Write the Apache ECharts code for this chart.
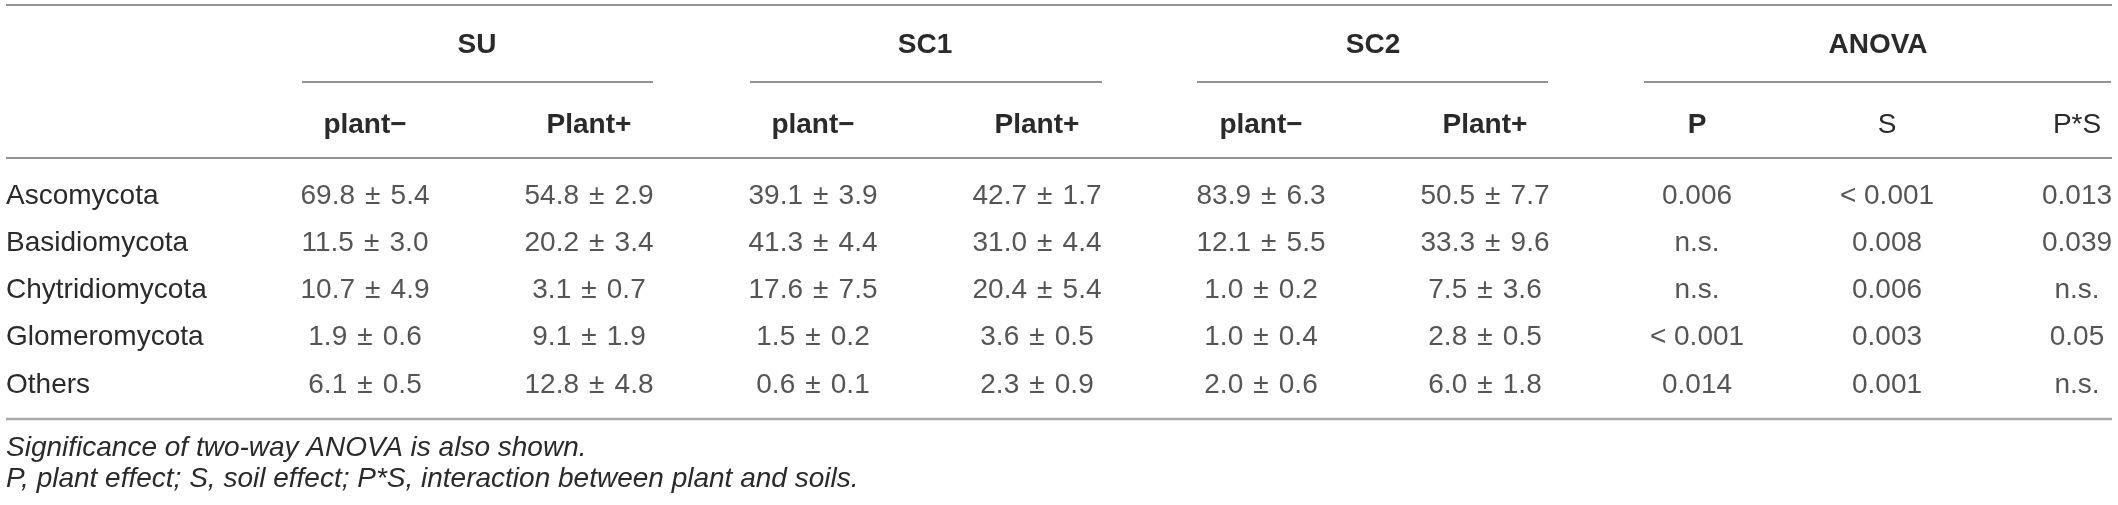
<!DOCTYPE html>
<html><head><meta charset="utf-8">
<script src="https://cdn.jsdelivr.net/npm/echarts@6/dist/echarts.min.js"></script>
<style>html,body{margin:0;padding:0;background:#fff}#c{width:2118px;height:505px}</style>
</head><body><div id="c"></div>
<script>
// ---------- data ----------
const phyla = ['Ascomycota', 'Basidiomycota', 'Chytridiomycota', 'Glomeromycota', 'Others'];
const soils = ['SU', 'SC1', 'SC2'];
const treatments = ['plant\u2212', 'Plant+'];

const suMinusMean  = [69.8, 11.5, 10.7, 1.9, 6.1];
const suMinusSd    = [5.4, 3.0, 4.9, 0.6, 0.5];
const suPlusMean   = [54.8, 20.2, 3.1, 9.1, 12.8];
const suPlusSd     = [2.9, 3.4, 0.7, 1.9, 4.8];
const sc1MinusMean = [39.1, 41.3, 17.6, 1.5, 0.6];
const sc1MinusSd   = [3.9, 4.4, 7.5, 0.2, 0.1];
const sc1PlusMean  = [42.7, 31.0, 20.4, 3.6, 2.3];
const sc1PlusSd    = [1.7, 4.4, 5.4, 0.5, 0.9];
const sc2MinusMean = [83.9, 12.1, 1.0, 1.0, 2.0];
const sc2MinusSd   = [6.3, 5.5, 0.2, 0.4, 0.6];
const sc2PlusMean  = [50.5, 33.3, 7.5, 2.8, 6.0];
const sc2PlusSd    = [7.7, 9.6, 3.6, 0.5, 1.8];

const anovaTitle = 'ANOVA';
const anovaTerms = ['P', 'S', 'P*S'];
const anovaP  = ['0.006', 'n.s.', 'n.s.', '< 0.001', '0.014'];
const anovaS  = ['< 0.001', '0.008', '0.006', '0.003', '0.001'];
const anovaPS = ['0.013', '0.039', 'n.s.', '0.05', 'n.s.'];

const footnotes = [
  'Significance of two-way ANOVA is also shown.',
  'P, plant effect; S, soil effect; P*S, interaction between plant and soils.'
];

// ---------- layout / style ----------
const FONT = "'Liberation Sans', Arial, Helvetica, sans-serif";
const INK = '#2a2a2a';
const FS = 28;
const rowTop = 172.4, rowHeight = 236.25;
const subHeadY = 125, groupHeadY = 45;
const groupLefts = [253, 701, 1149], groupWidth = 448;
const anovaLeft = 1697, anovaWidth = 380;
const tableLeft = 6, tableRight = 2112;
const topRuleY = 5, subRuleY = 82, headRuleY = 158, bottomRuleY = 419;
const subRules = [[302, 653], [750, 1102], [1197, 1548], [1644, 2111]];

const fmt = (m, s) => m.toFixed(1) + ' \u200a\u00b1\u200a ' + s.toFixed(1);
const soilData = [
  [[suMinusMean, suMinusSd], [suPlusMean, suPlusSd]],
  [[sc1MinusMean, sc1MinusSd], [sc1PlusMean, sc1PlusSd]],
  [[sc2MinusMean, sc2MinusSd], [sc2PlusMean, sc2PlusSd]]
];
const anovaCols = [anovaP, anovaS, anovaPS];

const grids = [], xAxes = [], yAxes = [], series = [];
const labelStyle = { show: true, position: 'inside', color: INK, fontFamily: FONT, fontSize: FS, formatter: p => p.value[2] };

soils.forEach((soil, g) => {
  grids.push({ left: groupLefts[g], width: groupWidth, top: rowTop, height: rowHeight });
  xAxes.push({
    type: 'category', gridIndex: g, position: 'top', data: treatments,
    axisLine: { show: false }, axisTick: { show: false }, splitLine: { show: false },
    axisLabel: { margin: rowTop - subHeadY, verticalAlign: 'middle', color: INK, fontFamily: FONT, fontSize: FS, fontWeight: 'bold' },
    name: soil, nameLocation: 'middle', nameGap: rowTop - groupHeadY,
    nameTextStyle: { color: INK, fontFamily: FONT, fontSize: FS, fontWeight: 'bold', verticalAlign: 'middle' }
  });
  yAxes.push({
    type: 'category', gridIndex: g, data: phyla, inverse: true, show: g === 0,
    axisLine: { show: false }, axisTick: { show: false }, splitLine: { show: false },
    axisLabel: { align: 'left', margin: groupLefts[0] - tableLeft, color: INK, fontFamily: FONT, fontSize: FS }
  });
  const data = [];
  treatments.forEach((t, k) => {
    const [mean, sd] = soilData[g][k];
    phyla.forEach((p, i) => data.push([t, p, fmt(mean[i], sd[i])]));
  });
  series.push({
    type: 'scatter', xAxisIndex: g, yAxisIndex: g, symbolSize: 1,
    itemStyle: { color: 'rgba(0,0,0,0)' }, label: labelStyle, silent: true, data
  });
});

// ANOVA block (columns on the grid edges and centre)
const ag = soils.length;
grids.push({ left: anovaLeft, width: anovaWidth, top: rowTop, height: rowHeight });
xAxes.push({
  type: 'category', gridIndex: ag, position: 'top', boundaryGap: false,
  data: anovaTerms,
  axisLine: { show: false }, axisTick: { show: false }, splitLine: { show: false },
  axisLabel: {
    margin: rowTop - subHeadY, verticalAlign: 'middle', align: 'center',
    alignMinLabel: 'center', alignMaxLabel: 'center', showMinLabel: true, showMaxLabel: true,
    color: INK, fontFamily: FONT, fontSize: FS,
    formatter: (v, i) => i === 0 ? '{b|' + v + '}' : '{n|' + v + '}',
    rich: {
      b: { fontWeight: 'bold', fontFamily: FONT, fontSize: FS, color: INK },
      n: { fontWeight: 'normal', fontFamily: FONT, fontSize: FS, color: INK }
    }
  },
  name: anovaTitle, nameLocation: 'middle', nameGap: rowTop - groupHeadY,
  nameTextStyle: { color: INK, fontFamily: FONT, fontSize: FS, fontWeight: 'bold', verticalAlign: 'middle', padding: [0, 18, 0, 0] }
});
yAxes.push({
  type: 'category', gridIndex: ag, data: phyla, inverse: true, show: false
});
const anovaData = [];
anovaTerms.forEach((t, k) => phyla.forEach((p, i) => anovaData.push([t, p, anovaCols[k][i]])));
series.push({
  type: 'scatter', xAxisIndex: ag, yAxisIndex: ag, symbolSize: 1,
  itemStyle: { color: 'rgba(0,0,0,0)' }, label: labelStyle, silent: true, data: anovaData
});

const ruleColor = '#6f6f6f';
const hline = (y, x1, x2, w, c) => ({ type: 'line', silent: true, shape: { x1, y1: y, x2, y2: y }, style: { stroke: c, lineWidth: w } });
const graphic = [
  hline(topRuleY, tableLeft, tableRight, 1.5, ruleColor),
  hline(headRuleY, tableLeft, tableRight, 1.5, ruleColor),
  hline(bottomRuleY, tableLeft, tableRight, 2.5, '#a8a8a8'),
  ...subRules.map(([a, b]) => hline(subRuleY, a, b, 1.5, ruleColor))
];

const chart = echarts.init(document.getElementById('c'), null, { renderer: 'canvas' });
chart.setOption({
  animation: false,
  backgroundColor: '#fff',
  title: {
    left: tableLeft, top: 433, padding: 0,
    text: footnotes.join('\n'),
    textStyle: { color: INK, fontFamily: FONT, fontSize: FS, fontStyle: 'italic', fontWeight: 'normal', lineHeight: 31 }
  },
  grid: grids, xAxis: xAxes, yAxis: yAxes, series, graphic
});
</script>
</body></html>
